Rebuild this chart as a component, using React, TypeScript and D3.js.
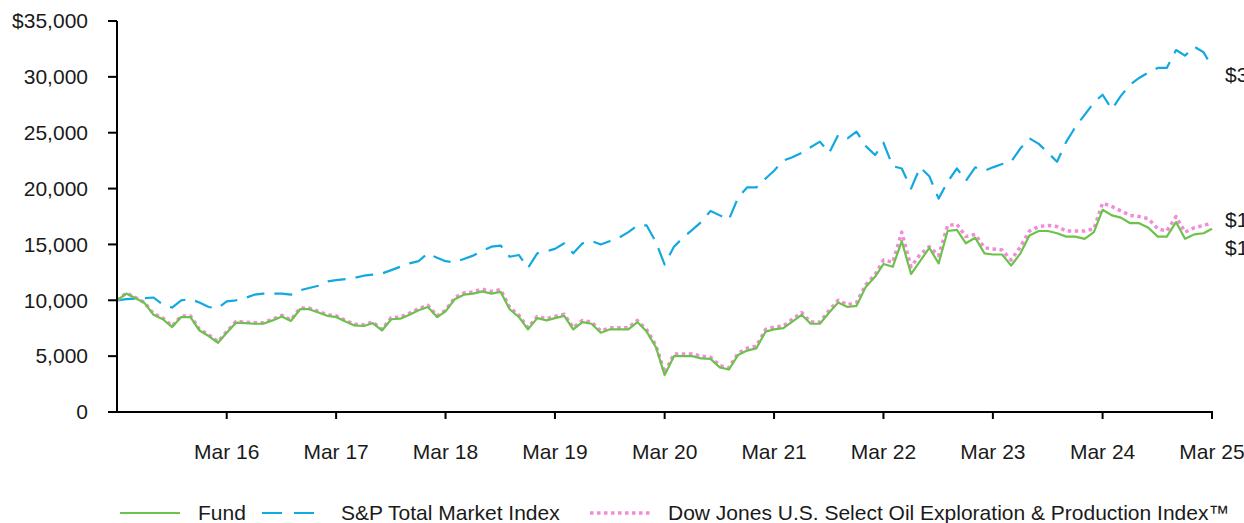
import React from 'react';
import * as d3 from 'd3';

const W = 1244;
const H = 523;

// Monthly values, Mar 2015 .. Mar 2025 (121 points), in $
const fundValues = [
  10000, 10600, 10200, 9750, 8700, 8300, 7600, 8500, 8500, 7300, 6800, 6200,
  7100, 8000, 7950, 7900, 7900, 8200, 8550, 8150, 9200, 9200, 8900, 8600,
  8500, 8100, 7750, 7700, 7950, 7300, 8300, 8350, 8700, 9100, 9400, 8500,
  9000, 10100, 10500, 10600, 10800, 10600, 10750, 9200, 8500, 7400, 8400, 8200,
  8400, 8600, 7400, 8050, 7900, 7100, 7400, 7400, 7400, 8050, 7200, 5800,
  3300, 5000, 5000, 5000, 4800, 4750, 4000, 3800, 5100, 5500, 5700, 7200,
  7400, 7500, 8100, 8700, 7900, 7900, 8900, 9800, 9400, 9500, 11200, 12100,
  13250, 13000, 15300, 12350, 13500, 14700, 13300, 16200, 16300, 15100, 15600, 14200,
  14100, 14100, 13100, 14200, 15800, 16200, 16200, 16000, 15700, 15700, 15500, 16100,
  18100, 17600, 17400, 16900, 16900, 16500, 15700, 15700, 17000, 15500, 15900, 16000,
  16400,
];

const spTotalMarket = [
  10000, 10100, 10150, 10200, 10250, 9600, 9350, 10000, 10100, 9800, 9400, 9300,
  9900, 10000, 10200, 10500, 10600, 10600, 10600, 10500, 10900, 11100, 11300, 11700,
  11800, 11900, 12000, 12200, 12300, 12400, 12700, 13000, 13300, 13500, 14200, 13800,
  13500, 13400, 13700, 14000, 14400, 14800, 14900, 13900, 14050, 12900, 14200, 14400,
  14600, 15100, 14200, 15100, 15300, 15000, 15300, 15600, 16100, 16700, 16700, 15200,
  13200, 14800, 15600, 16300, 17000, 18000, 17600, 17200, 19200, 20100, 20100, 20900,
  21600, 22500, 22800, 23200, 23700, 24200, 23200, 24800, 24500, 25100, 23800, 23000,
  24100, 22000, 21800, 20000, 21900, 21100, 19100, 20600, 21800, 20700, 21900, 21600,
  21900, 22200, 22400, 23600, 24500, 24000, 23200, 22400, 24200, 25500, 26600, 27700,
  28400, 27100, 28300, 29300, 29900, 30400, 30800, 30800, 32400, 31900, 32700, 32200,
  30900,
];

const oilIndex = [
  10000, 10650, 10250, 9800, 8800, 8400, 7700, 8600, 8600, 7400, 6900, 6300,
  7200, 8100, 8050, 8000, 8000, 8300, 8650, 8250, 9300, 9300, 9000, 8700,
  8600, 8200, 7850, 7800, 8050, 7400, 8450, 8500, 8850, 9250, 9550, 8600,
  9100, 10250, 10650, 10750, 11000, 10800, 10950, 9350, 8650, 7550, 8550, 8350,
  8550, 8750, 7550, 8200, 8050, 7250, 7550, 7550, 7550, 8200, 7350, 5950,
  3500, 5200, 5200, 5200, 5000, 4900, 4150, 3950, 5250, 5700, 5900, 7400,
  7600, 7700, 8300, 8900, 8050, 8050, 9100, 10000, 9600, 9800, 11400, 12300,
  13600, 13400, 16100, 13000, 14100, 14800, 14000, 16700, 16800, 15700, 15900, 14700,
  14600, 14500, 13600, 14800, 16200, 16600, 16700, 16600, 16200, 16200, 16200, 16400,
  18700, 18400, 18000, 17600, 17500, 17300, 16400, 16200, 17500, 16100, 16500, 16700,
  16900,
];

const endLabels = ['$30,900', '$16,900', '$16,400'];
const yTicks = [0, 5000, 10000, 15000, 20000, 25000, 30000, 35000];
const xTickLabels = ['Mar 16', 'Mar 17', 'Mar 18', 'Mar 19', 'Mar 20', 'Mar 21', 'Mar 22', 'Mar 23', 'Mar 24', 'Mar 25'];
const seriesNames = ['Fund', 'S&P Total Market Index', 'Dow Jones U.S. Select Oil Exploration & Production Index\u2122'];

const GREEN = '#6cc24a';
const BLUE = '#12a8e0';
const PINK = '#f28bd9';
const FONT = 'Arial, "Liberation Sans", sans-serif';
const FS = 21;

const startDate = new Date(2015, 2, 1);
const dates = fundValues.map((_, i) => d3.timeMonth.offset(startDate, i));
const tickDates = xTickLabels.map((_, k) => new Date(2016 + k, 2, 1));

export default function App() {
  const left = 117, right = 1212, top = 21, bottom = 412;
  const x = d3.scaleTime().domain([startDate, new Date(2025, 2, 1)]).range([left, right]);
  const y = d3.scaleLinear().domain([0, 35000]).range([bottom, top]);

  const line = d3.line<number>()
    .x((_, i) => x(dates[i]))
    .y((d) => y(d));

  const series = [
    { name: seriesNames[1], values: spTotalMarket, color: BLUE, dash: '18,10', width: 2.2, label: endLabels[0] },
    { name: seriesNames[2], values: oilIndex, color: PINK, dash: '3.5,3.5', width: 3.5, label: endLabels[1] },
    { name: seriesNames[0], values: fundValues, color: GREEN, dash: undefined, width: 2.2, label: endLabels[2] },
  ];

  // end labels, pushed apart to avoid overlap
  const labels = series.map((s) => ({
    text: s.label,
    y: y(s.values[s.values.length - 1]) + 8,
  }));
  const sorted = [...labels].sort((a, b) => a.y - b.y);
  const minGap = 28;
  for (let iter = 0; iter < 5; iter++) {
    for (let i = 1; i < sorted.length; i++) {
      const a = sorted[i - 1], b = sorted[i];
      if (b.y - a.y < minGap) {
        const mid = (a.y + b.y) / 2;
        a.y = mid - minGap / 2;
        b.y = mid + minGap / 2;
      }
    }
  }

  const fmt = d3.format(',');

  const legendY = 513;
  const legendItems = [
    { name: seriesNames[0], color: GREEN, dash: undefined, width: 2.2, x0: 120, x1: 180, tx: 198 },
    { name: seriesNames[1], color: BLUE, dash: '20,12', width: 2.2, x0: 262, x1: 316, tx: 341 },
    { name: seriesNames[2], color: PINK, dash: '3.5,3.5', width: 3.5, x0: 590, x1: 650, tx: 668 },
  ];

  return (
    <svg
      width={W}
      height={H}
      style={{ position: 'absolute', left: 0, top: 0, background: '#fff' }}
      fontFamily={FONT}
      fontSize={FS}
    >
      {/* lines */}
      {series.map((s) => (
        <path
          key={s.name}
          d={line(s.values) || ''}
          fill="none"
          stroke={s.color}
          strokeWidth={s.width}
          strokeDasharray={s.dash}
          strokeLinejoin="round"
        />
      ))}

      {/* y axis */}
      <line x1={left} x2={left} y1={top} y2={bottom} stroke="#000" strokeWidth={2} />
      {yTicks.map((t, i) => (
        <g key={t}>
          <line x1={left - 9} x2={left} y1={y(t)} y2={y(t)} stroke="#000" strokeWidth={2} />
          <text x={88} y={y(t)} dy="0.35em" textAnchor="end" fill="#1a1a1a">
            {i === yTicks.length - 1 ? '$' + fmt(t) : fmt(t)}
          </text>
        </g>
      ))}

      {/* x axis */}
      <line x1={left - 1} x2={right + 1} y1={bottom} y2={bottom} stroke="#000" strokeWidth={2} />
      {tickDates.map((d, i) => (
        <g key={i}>
          <line x1={x(d)} x2={x(d)} y1={bottom} y2={bottom + 7} stroke="#000" strokeWidth={2} />
          <text x={x(d)} y={452} dy="0.35em" textAnchor="middle" fill="#1a1a1a">
            {xTickLabels[i]}
          </text>
        </g>
      ))}

      {/* end labels */}
      {labels.map((l, i) => (
        <text key={i} x={1225} y={l.y} dy="0.35em" fill="#1a1a1a">
          {l.text}
        </text>
      ))}

      {/* legend */}
      {legendItems.map((it) => (
        <g key={it.name}>
          <line
            x1={it.x0}
            x2={it.x1}
            y1={legendY}
            y2={legendY}
            stroke={it.color}
            strokeWidth={it.width}
            strokeDasharray={it.dash}
          />
          <text x={it.tx} y={legendY} dy="0.35em" fill="#1a1a1a">
            {it.name}
          </text>
        </g>
      ))}
    </svg>
  );
}
